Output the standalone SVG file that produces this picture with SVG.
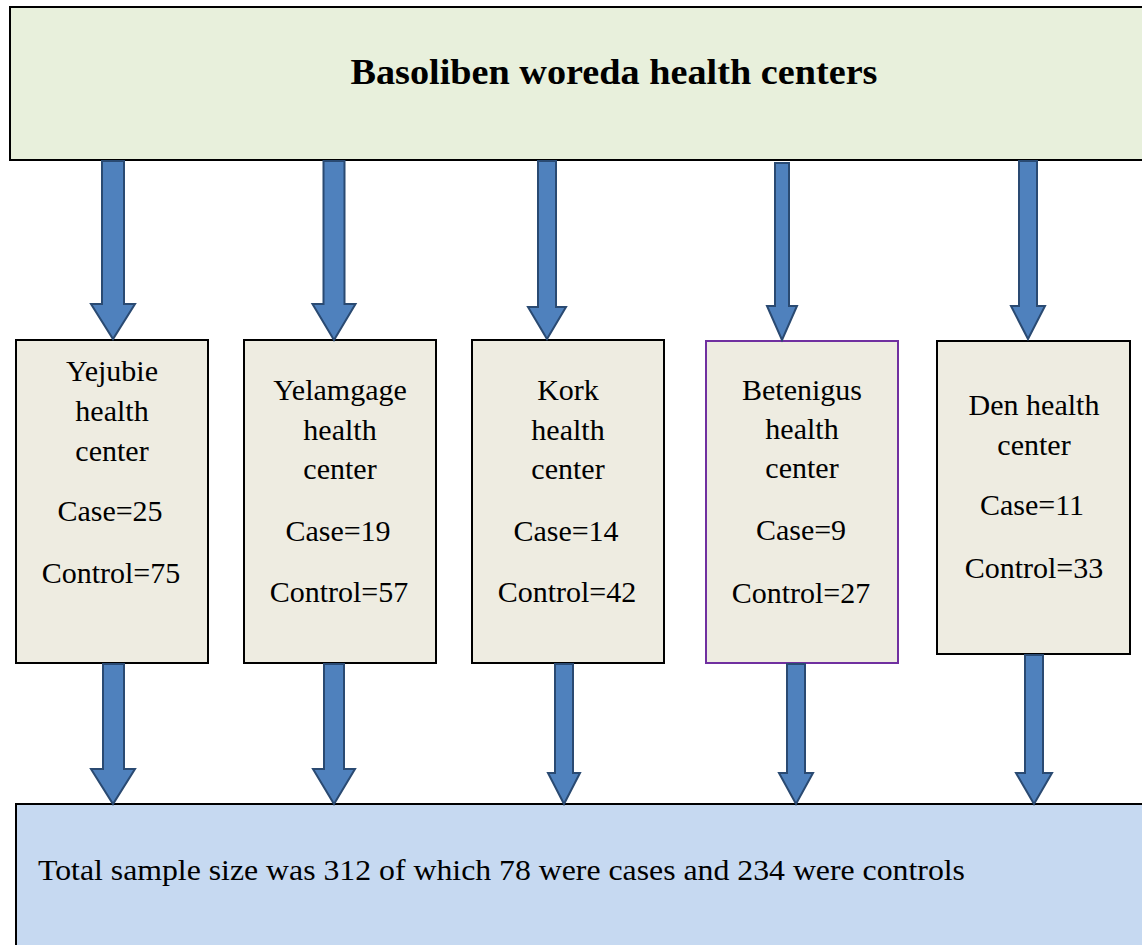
<svg xmlns="http://www.w3.org/2000/svg" width="1142" height="945" viewBox="0 0 1142 945">
<style>
.box{fill:#EEECE1;stroke:#000;stroke-width:2}
.t{font-family:"Liberation Serif","Times New Roman",serif;font-size:30px;fill:#000;text-anchor:middle}
.arr{fill:#4F81BD;stroke:#2A4A72;stroke-width:2;stroke-linejoin:miter}
</style>
<rect width="1142" height="945" fill="#fff"/>
<g id="top">
<rect x="10" y="7" width="1140" height="153" fill="#E8F0DC" stroke="#000" stroke-width="2"/>
<text x="614" y="84" class="t" style="font-weight:bold;font-size:35px" textLength="527" lengthAdjust="spacingAndGlyphs">Basoliben woreda health centers</text>
</g>
<g id="yejubie">
<rect class="box" x="16" y="340" width="192" height="323"/>
<text class="t" x="112" y="381">Yejubie</text>
<text class="t" x="112" y="421">health</text>
<text class="t" x="112" y="461">center</text>
<text class="t" x="110" y="521">Case=25</text>
<text class="t" x="111" y="583">Control=75</text>
</g>
<g id="yelamgage">
<rect class="box" x="244" y="340" width="192" height="323"/>
<text class="t" x="340" y="400">Yelamgage</text>
<text class="t" x="340" y="440">health</text>
<text class="t" x="340" y="479">center</text>
<text class="t" x="338" y="541">Case=19</text>
<text class="t" x="339" y="602">Control=57</text>
</g>
<g id="kork">
<rect class="box" x="472" y="340" width="192" height="323"/>
<text class="t" x="568" y="400">Kork</text>
<text class="t" x="568" y="440">health</text>
<text class="t" x="568" y="479">center</text>
<text class="t" x="566" y="541">Case=14</text>
<text class="t" x="567" y="602">Control=42</text>
</g>
<g id="betenigus">
<rect class="box" x="706" y="341" width="192" height="322" style="stroke:#7030A0"/>
<text class="t" x="802" y="400">Betenigus</text>
<text class="t" x="802" y="439">health</text>
<text class="t" x="802" y="478">center</text>
<text class="t" x="801" y="540">Case=9</text>
<text class="t" x="801" y="603">Control=27</text>
</g>
<g id="den">
<rect class="box" x="937" y="341" width="193" height="313"/>
<text class="t" x="1034" y="415">Den health</text>
<text class="t" x="1034" y="455">center</text>
<text class="t" x="1032" y="515">Case=11</text>
<text class="t" x="1034" y="578">Control=33</text>
</g>
<g id="total">
<rect x="16" y="804" width="1140" height="150" fill="#C6D9F1" stroke="#000" stroke-width="2"/>
<text class="t" x="38" y="880" style="text-anchor:start" textLength="927" lengthAdjust="spacingAndGlyphs">Total sample size was 312 of which 78 were cases and 234 were controls</text>
</g>
<g id="connectors">
<polygon class="arr" points="102,161 124,161 124,304 135,304 113,339 91,304 102,304"/>
<polygon class="arr" points="323.5,161 344.5,161 344.5,304 355.5,304 334,340 312.5,304 323.5,304"/>
<polygon class="arr" points="538,161 556,161 556,307 566,307 547,339 528,307 538,307"/>
<polygon class="arr" points="775,163 789,163 789,306 797,306 782,340 767,306 775,306"/>
<polygon class="arr" points="1019,161 1037,161 1037,306 1045,306 1028,339 1011,306 1019,306"/>
<polygon class="arr" points="103,664 124,664 124,769 135,769 113,804 91,769 103,769"/>
<polygon class="arr" points="324,664 344,664 344,769 355,769 334,804 313,769 324,769"/>
<polygon class="arr" points="555,664 573,664 573,773 580,773 564,804 548,773 555,773"/>
<polygon class="arr" points="787,664 805,664 805,773 813,773 796,804 779,773 787,773"/>
<polygon class="arr" points="1025,655 1043,655 1043,773 1052,773 1034,804 1016,773 1025,773"/>
</g>
</svg>
